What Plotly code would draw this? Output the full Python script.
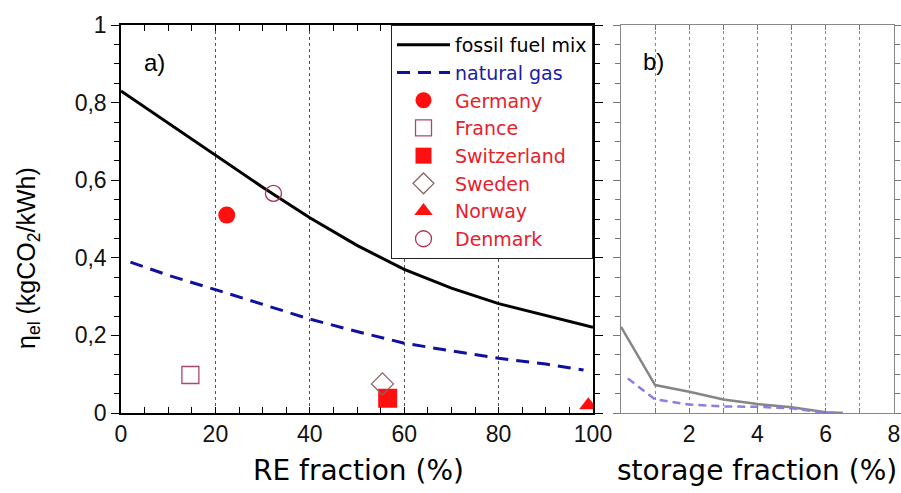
import plotly.graph_objects as go

# ---- panel a: emission factor vs renewable share ----
RE_FRACTION = [0, 10, 20, 30, 40, 50, 60, 70, 80, 90, 100]
FOSSIL_MIX = [0.83, 0.748, 0.665, 0.582, 0.503, 0.432, 0.37, 0.322, 0.282, 0.251, 0.221]
GAS_FRACTION = [2, 10, 20, 30, 40, 50, 60, 70, 80, 90, 98]
NATURAL_GAS = [0.389, 0.355, 0.318, 0.281, 0.242, 0.21, 0.18, 0.16, 0.141, 0.126, 0.111]

COUNTRIES = ["Germany", "France", "Switzerland", "Sweden", "Norway", "Denmark"]
COUNTRY_RE = [22.4, 14.7, 56.5, 55.4, 99.0, 32.3]
COUNTRY_EF = [0.51, 0.098, 0.038, 0.075, 0.02, 0.566]

# ---- panel b: emission factor vs storage share ----
STORAGE_FOSSIL_X = [0, 1, 2, 3, 4, 5, 6, 6.5]
STORAGE_FOSSIL = [0.222, 0.072, 0.055, 0.035, 0.023, 0.015, 0.002, 0.0]
STORAGE_GAS_X = [0.2, 1, 2, 3, 4, 5, 6, 6.5]
STORAGE_GAS = [0.089, 0.035, 0.022, 0.017, 0.016, 0.012, 0.0, 0.0]

Y_TICKS = [0, 0.2, 0.4, 0.6, 0.8, 1.0]
Y_LABELS = ["0", "0,2", "0,4", "0,6", "0,8", "1"]
A_TICKS = [0, 20, 40, 60, 80, 100]
B_TICKS = [2, 4, 6, 8]

FONT = "Liberation Sans, Arial, sans-serif"
WIDE_FONT = "DejaVu Sans, Verdana, sans-serif"
RED = "#e8202a"

W, H = 901, 493
M_L, M_R, M_T, M_B = 121, 7, 25, 80
PLOT_W = W - M_L - M_R
PLOT_H = H - M_T - M_B


def px(x, y):
    """Convert a pixel position on the page to paper coordinates."""
    return (x - M_L) / PLOT_W, (H - M_B - y) / PLOT_H


MARKERS = {
    "Germany": dict(symbol="circle", size=17, color="#ff1010"),
    "France": dict(symbol="square-open", size=17, color="#a84a6a", line=dict(width=1.3)),
    "Switzerland": dict(symbol="square", size=19, color="#ff1010"),
    "Sweden": dict(symbol="diamond-open", size=17, color="#8a6464", line=dict(width=1.3)),
    "Norway": dict(symbol="triangle-up", size=16, color="#ff1010"),
    "Denmark": dict(symbol="circle-open", size=16, color="#b03050", line=dict(width=1.3)),
}

fig = go.Figure()

fig.add_trace(go.Scatter(
    x=RE_FRACTION, y=FOSSIL_MIX, mode="lines", name="fossil fuel mix",
    line=dict(color="black", width=3), xaxis="x", yaxis="y"))
fig.add_trace(go.Scatter(
    x=GAS_FRACTION, y=NATURAL_GAS, mode="lines",
    name="<span style='color:#1a1aa8'>natural gas</span>",
    line=dict(color="#1010a0", width=3, dash="13px,8px"), xaxis="x", yaxis="y"))

for name, xv, yv in zip(COUNTRIES, COUNTRY_RE, COUNTRY_EF):
    fig.add_trace(go.Scatter(
        x=[xv], y=[yv], mode="markers",
        name=f"<span style='color:{RED}'>{name}</span>",
        marker=MARKERS[name], xaxis="x", yaxis="y"))

fig.add_trace(go.Scatter(
    x=STORAGE_FOSSIL_X, y=STORAGE_FOSSIL, mode="lines", showlegend=False,
    line=dict(color="#858585", width=2.5), xaxis="x2", yaxis="y2"))
fig.add_trace(go.Scatter(
    x=STORAGE_GAS_X, y=STORAGE_GAS, mode="lines", showlegend=False,
    line=dict(color="#8a80e0", width=2.5, dash="8px,5px"), xaxis="x2", yaxis="y2"))

tickfont = dict(family=FONT, size=23, color="#111")
dom_a = [0, (593 - M_L) / PLOT_W]
dom_b = [(621 - M_L) / PLOT_W, 1]


def note(text, x, y, size, family=FONT, **kw):
    px_x, px_y = px(x, y)
    return dict(text=text, x=px_x, y=px_y, xref="paper", yref="paper",
                xanchor="center", yanchor="middle", showarrow=False,
                font=dict(family=family, size=size, color="black"), **kw)


fig.update_layout(
    template="none",
    width=W, height=H, autosize=False,
    margin=dict(l=M_L, r=M_R, t=M_T, b=M_B),
    paper_bgcolor="white", plot_bgcolor="white",
    font=dict(family=FONT, color="black"),
    showlegend=True,
    legend=dict(
        x=dom_a[1], xanchor="right", y=1, yanchor="top",
        bgcolor="white", bordercolor="#222", borderwidth=1,
        font=dict(family=WIDE_FONT, size=19, color="black"),
        itemwidth=53, tracegroupgap=0,
    ),
    xaxis=dict(
        domain=dom_a, range=[0, 100], anchor="y", automargin=False,
        tickvals=A_TICKS, ticks="inside", ticklen=6, tickcolor="black",
        minor=dict(dtick=5, ticks="inside", ticklen=6, tickcolor="black", showgrid=False),
        showline=True, linecolor="black", linewidth=1.5, mirror="allticks",
        showgrid=True, gridcolor="#555", griddash="dot", gridwidth=1,
        zeroline=False, tickfont=tickfont,
    ),
    yaxis=dict(
        domain=[0, 1], range=[0, 1], anchor="x", automargin=False,
        tickvals=Y_TICKS, ticktext=Y_LABELS, ticks="outside", ticklen=8, tickcolor="black",
        minor=dict(dtick=0.05, ticks="outside", ticklen=5, tickcolor="black", showgrid=False),
        showline=True, linecolor="black", linewidth=1.5, mirror="allticks",
        showgrid=False, zeroline=False, tickfont=tickfont,
    ),
    xaxis2=dict(
        domain=dom_b, range=[0, 8], anchor="y2", automargin=False,
        tickvals=B_TICKS, ticks="inside", ticklen=5, tickcolor="#777",
        minor=dict(dtick=1, ticks="inside", ticklen=5, tickcolor="#777",
                   showgrid=True, gridcolor="#888", griddash="3px,3px", gridwidth=1),
        showline=True, linecolor="#888", linewidth=1.2, mirror="allticks",
        showgrid=True, gridcolor="#888", griddash="3px,3px", gridwidth=1,
        zeroline=False, tickfont=tickfont,
    ),
    # fine tick marks every 0.2 on the storage axis
    xaxis3=dict(
        domain=dom_b, range=[0, 8], anchor="y2", overlaying="x2", automargin=False,
        dtick=0.2, ticks="inside", ticklen=5, tickcolor="#777",
        showticklabels=False, showline=False, mirror="allticks",
        showgrid=False, zeroline=False,
    ),
    yaxis2=dict(
        domain=[0, 1], range=[0, 1], anchor="x2", automargin=False,
        tickvals=Y_TICKS, showticklabels=False, ticks="outside", ticklen=7, tickcolor="#777",
        minor=dict(dtick=0.05, ticks="outside", ticklen=5, tickcolor="#777", showgrid=False),
        showline=True, linecolor="#888", linewidth=1.2, mirror="allticks",
        showgrid=False, zeroline=False,
    ),
    annotations=[
        note("a)", 154, 62, 24),
        note("b)", 653, 61, 24),
        note("RE fraction (%)", 358, 471, 28, family=WIDE_FONT),
        note("storage fraction (%)", 757, 471, 28, family=WIDE_FONT),
        note("η<sub>el</sub> (kgCO<sub>2</sub>/kWh)", 28, 258, 25, textangle=-90),
    ],
)

fig.write_html("out.html", config={"responsive": False})
